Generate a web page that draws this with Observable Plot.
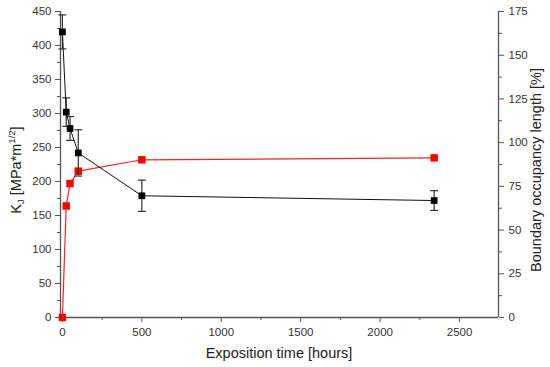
<!DOCTYPE html>
<html><head><meta charset="utf-8">
<script src="https://cdn.jsdelivr.net/npm/d3@7"></script>
<script src="https://cdn.jsdelivr.net/npm/@observablehq/plot@0.6"></script>
<style>body{margin:0;background:#fff}#chart{width:550px;height:367px}</style>
</head><body><div id="chart"></div>
<script>
// Data
const hours = [0, 24, 48, 100, 500, 2340];
const kj = [420, 302, 278, 242, 179, 172];
const kjErr = [25, 21, 17.5, 34, 23, 14.5];
const occupancy = [0, 63.8, 76.6, 83.7, 90.2, 91.3];
const xTicks = [0, 500, 1000, 1500, 2000, 2500];
const yLeftTicks = [0, 50, 100, 150, 200, 250, 300, 350, 400, 450];
const yRightTicks = [0, 25, 50, 75, 100, 125, 150, 175];

const RATIO = 450 / 175;
const black = hours.map((h, i) => ({x: h, y: kj[i], lo: kj[i] - kjErr[i], hi: kj[i] + kjErr[i]}));
const red = hours.map((h, i) => ({x: h, y: occupancy[i] * RATIO}));

const cap = {draw(ctx) { ctx.moveTo(-4, 0); ctx.lineTo(4, 0); }};
const axisColor = "#555";
const font = "Liberation Sans, Arial, sans-serif";

const xMinor = d3.range(250, 2750, 500);
const yMinor = d3.range(25, 450, 50);
const rMinor = d3.range(12.5, 175, 25).map(v => v * RATIO);

const plot = Plot.plot({
  width: 550, height: 367,
  marginLeft: 60, marginRight: 52, marginTop: 11, marginBottom: 50,
  style: {fontFamily: font, fontSize: "11.5px", color: "#333", background: "#fff"},
  x: {domain: [-12, 2745]},
  y: {domain: [0, 450]},
  marks: [
    // axes
    Plot.axisX({ticks: xTicks, tickFormat: d => String(d), tickSize: 5, tickPadding: 5, stroke: axisColor, fill: "#333", label: null}),
    Plot.axisX({ticks: xMinor, tickSize: 3, tickFormat: () => "", stroke: axisColor, label: null}),
    Plot.axisY({ticks: yLeftTicks, tickFormat: d => String(d), tickSize: 5, tickPadding: 4, stroke: axisColor, fill: "#333", label: null}),
    Plot.axisY({ticks: yMinor, tickSize: 3, tickFormat: () => "", stroke: axisColor, label: null}),
    Plot.axisY({anchor: "right", ticks: yRightTicks.map(v => v * RATIO), tickFormat: v => String(Math.round(v / RATIO)), tickSize: 5, tickPadding: 5, stroke: axisColor, fill: "#333", label: null}),
    Plot.axisY({anchor: "right", ticks: rMinor, tickSize: 3, tickFormat: () => "", stroke: axisColor, label: null}),
    Plot.ruleY([0], {stroke: axisColor, strokeWidth: 1.3}),
    Plot.ruleX([-12], {stroke: axisColor, strokeWidth: 1.3}),
    Plot.ruleX([2745], {stroke: axisColor, strokeWidth: 1.3}),
    // red series
    Plot.line(red, {x: "x", y: "y", stroke: "#ff2020", strokeWidth: 1.2}),
    Plot.dot(red, {x: "x", y: "y", symbol: "square", r: 4.2, fill: "#ff0000", stroke: "none"}),
    // black series
    Plot.ruleX(black, {x: "x", y1: "lo", y2: "hi", stroke: "#333", strokeWidth: 1.2}),
    Plot.dot(black, {x: "x", y: "lo", symbol: cap, stroke: "#333", strokeWidth: 1.2}),
    Plot.dot(black, {x: "x", y: "hi", symbol: cap, stroke: "#333", strokeWidth: 1.2}),
    Plot.line(black, {x: "x", y: "y", stroke: "#111", strokeWidth: 1}),
    Plot.dot(black, {x: "x", y: "y", symbol: "square", r: 3.8, fill: "#000", stroke: "none"})
  ]
});

const svg = d3.select(plot);
// x label
svg.append("text").attr("x", 279).attr("y", 358).attr("text-anchor", "middle")
  .attr("font-family", font).attr("font-size", 14.5).attr("fill", "#222")
  .text("Exposition time [hours]");
// left label
const lt = svg.append("text").attr("transform", "translate(21,170) rotate(-90)").attr("text-anchor", "middle")
  .attr("font-family", font).attr("font-size", 14.5).attr("fill", "#222");
lt.append("tspan").text("K");
lt.append("tspan").attr("font-size", 9.5).attr("dy", 3).text("J");
lt.append("tspan").attr("dy", -3).text(" [MPa*m");
lt.append("tspan").attr("font-size", 9.5).attr("dy", -6).text("1/2");
lt.append("tspan").attr("dy", 6).text("]");
// right label
svg.append("text").attr("transform", "translate(541,170) rotate(-90)").attr("text-anchor", "middle")
  .attr("font-family", font).attr("font-size", 14.5).attr("fill", "#222")
  .text("Boundary occupancy length [%]");

document.getElementById("chart").appendChild(plot);
</script></body></html>
